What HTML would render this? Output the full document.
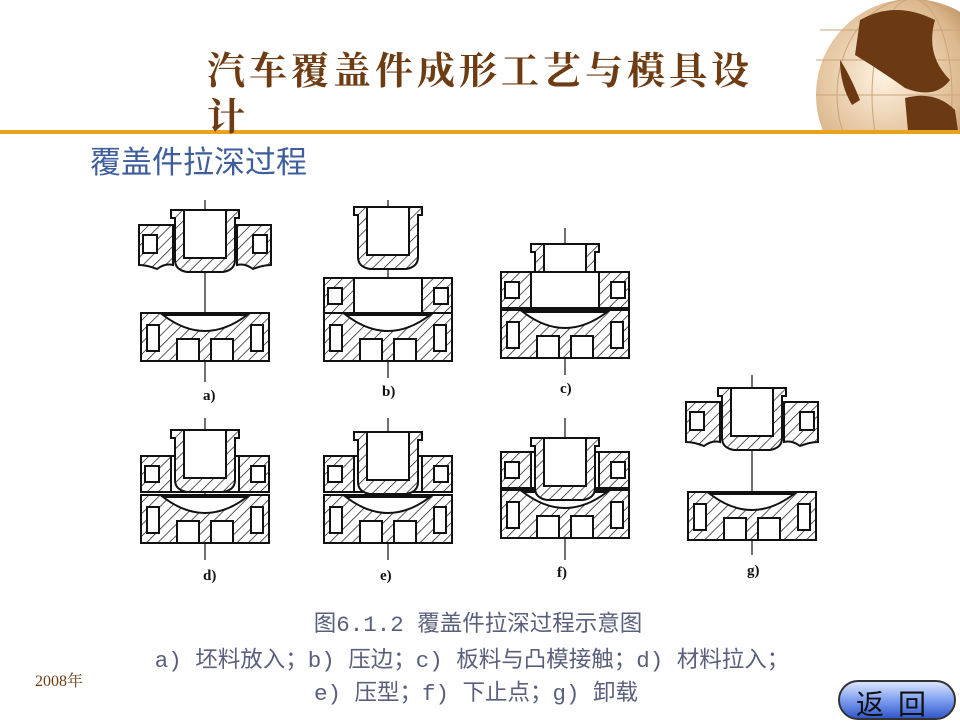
<!DOCTYPE html>
<html><head><meta charset="utf-8"><style>
body{margin:0;width:960px;height:720px;overflow:hidden;background:#fff;position:relative;font-family:"Liberation Sans","Noto Sans CJK SC",sans-serif}
.t{position:absolute;white-space:nowrap}
</style></head><body>
<svg width="960" height="720" style="position:absolute;left:0;top:0">
<defs>
<radialGradient id="gl" cx="0.35" cy="0.4" r="0.7"><stop offset="0" stop-color="#fff3e2"/><stop offset="0.6" stop-color="#dcb88d"/><stop offset="1" stop-color="#9a6333"/></radialGradient>
<linearGradient id="btn" x1="0" y1="0" x2="0" y2="1"><stop offset="0" stop-color="#dfe9ff"/><stop offset="0.5" stop-color="#7f9ff0"/><stop offset="1" stop-color="#2f55c8"/></linearGradient>
<pattern id="h" width="8" height="8" patternUnits="userSpaceOnUse" patternTransform="rotate(45)"><rect width="8" height="8" fill="#fff"/><line x1="0" y1="0" x2="0" y2="8" stroke="#111" stroke-width="1.4"/></pattern>
<g id="punch">
<path d="M-34,0H34V8H30V50Q30,60 18,62H-18Q-30,60 -30,50V8H-34Z" fill="url(#h)" stroke="#111" stroke-width="2"/>
<rect x="-21" y="0" width="42" height="48" fill="#fff" stroke="#111" stroke-width="2"/>
</g>
<g id="side">
<path d="M-66,0H-32V40Q-40,38 -48,44Q-58,40 -66,40Z" fill="url(#h)" stroke="#111" stroke-width="2"/>
<rect x="-62" y="10" width="14" height="18" fill="#fff" stroke="#111" stroke-width="2"/>
<path d="M66,0H32V40Q40,38 48,44Q58,40 66,40Z" fill="url(#h)" stroke="#111" stroke-width="2"/>
<rect x="48" y="10" width="14" height="18" fill="#fff" stroke="#111" stroke-width="2"/>
</g>
<g id="lower">
<path d="M-64,0H64V48H-64Z" fill="url(#h)" stroke="#111" stroke-width="2"/>
<path d="M-42,2Q0,34 42,2Z" fill="#fff" stroke="#111" stroke-width="2"/>
<rect x="-28" y="26" width="22" height="22" fill="#fff" stroke="#111" stroke-width="2"/>
<rect x="6" y="26" width="22" height="22" fill="#fff" stroke="#111" stroke-width="2"/>
<rect x="-58" y="12" width="12" height="26" fill="#fff" stroke="#111" stroke-width="2"/>
<rect x="46" y="12" width="12" height="26" fill="#fff" stroke="#111" stroke-width="2"/>
</g>
<g id="ring">
<path d="M-64,0H64V36H-64Z" fill="url(#h)" stroke="#111" stroke-width="2"/>
<rect x="-34" y="0" width="68" height="36" fill="#fff" stroke="#111" stroke-width="2"/>
<rect x="-60" y="10" width="14" height="16" fill="#fff" stroke="#111" stroke-width="2"/>
<rect x="46" y="10" width="14" height="16" fill="#fff" stroke="#111" stroke-width="2"/>
</g>
</defs>
<clipPath id="gc"><rect x="800" y="0" width="160" height="131"/></clipPath>
<g clip-path="url(#gc)"><circle cx="912" cy="95" r="96" fill="url(#gl)"/>
<g fill="none" stroke="#c9a47a" stroke-width="1"><ellipse cx="912" cy="95" rx="40" ry="96"/><ellipse cx="912" cy="95" rx="75" ry="96"/><line x1="816" y1="60" x2="1008" y2="60"/><line x1="816" y1="95" x2="1008" y2="95"/><line x1="820" y1="30" x2="1000" y2="30"/></g>
<path d="M860,20Q895,0 935,20Q925,55 950,80Q935,100 905,88Q880,70 855,55Z" fill="#6b3a12"/>
<path d="M840,60Q850,75 860,100L852,105Q840,85 840,60Z" fill="#6b3a12"/>
<path d="M905,98Q935,90 955,110L958,131H908Z" fill="#6b3a12"/></g>
<rect x="0" y="130" width="960" height="4" fill="#e8a21c"/>
<g transform="translate(205,0)"><line x1="0" y1="200" x2="0" y2="382" stroke="#111" stroke-width="1.2"/>
<use href="#side" y="225"/><use href="#punch" y="210"/>
<path d="M-60,318Q0,345 60,315" fill="none" stroke="#111" stroke-width="3"/><use href="#lower" y="313"/></g>
<g transform="translate(388,0)"><line x1="0" y1="200" x2="0" y2="378" stroke="#111" stroke-width="1.2"/>
<use href="#punch" y="207"/><use href="#ring" y="278"/><use href="#lower" y="313"/></g>
<g transform="translate(565,0)"><line x1="0" y1="228" x2="0" y2="375" stroke="#111" stroke-width="1.2"/>
<use href="#punch" y="244"/><use href="#ring" y="272"/><use href="#lower" y="310"/></g>
<g transform="translate(205,0)"><line x1="0" y1="418" x2="0" y2="560" stroke="#111" stroke-width="1.2"/>
<use href="#ring" y="456"/><use href="#lower" y="495"/><use href="#punch" y="430"/></g>
<g transform="translate(388,0)"><line x1="0" y1="418" x2="0" y2="560" stroke="#111" stroke-width="1.2"/>
<use href="#ring" y="456"/><use href="#lower" y="495"/><use href="#punch" y="432"/></g>
<g transform="translate(565,0)"><line x1="0" y1="418" x2="0" y2="560" stroke="#111" stroke-width="1.2"/>
<use href="#ring" y="452"/><use href="#lower" y="490"/><use href="#punch" y="438"/></g>
<g transform="translate(752,0)"><line x1="0" y1="375" x2="0" y2="555" stroke="#111" stroke-width="1.2"/>
<use href="#side" y="402"/><use href="#punch" y="388"/><use href="#lower" y="492"/></g>
<g font-family="Liberation Serif,serif" font-size="15" font-weight="bold" fill="#111">
<text x="203" y="400">a)</text><text x="382" y="396">b)</text><text x="560" y="393">c)</text>
<text x="203" y="580">d)</text><text x="380" y="580">e)</text><text x="557" y="577">f)</text><text x="747" y="575">g)</text></g>
<rect x="839" y="681" width="116" height="38" rx="19" fill="url(#btn)" stroke="#333" stroke-width="2"/>
</svg>
<div class="t" style="left:207px;top:40px;font-size:38px;font-weight:bold;color:#6e3c12;letter-spacing:4px;font-family:'Noto Serif CJK SC','Noto Sans CJK SC',sans-serif">汽车覆盖件成形工艺与模具设</div>
<div class="t" style="left:207px;top:86px;font-size:38px;font-weight:bold;color:#6e3c12;font-family:'Noto Serif CJK SC','Noto Sans CJK SC',sans-serif">计</div>
<div class="t" style="left:90px;top:137px;font-size:31px;color:#3d5d9c">覆盖件拉深过程</div>
<div class="t" style="left:0;width:956px;text-align:center;top:606px;font-size:22.5px;color:#5a607c;font-family:'Liberation Mono','Noto Sans CJK SC',monospace">图6.1.2 覆盖件拉深过程示意图</div>
<div class="t" style="left:0;width:944px;text-align:center;top:642px;font-size:22.5px;color:#5a607c;font-family:'Liberation Mono','Noto Sans CJK SC',monospace">a) 坯料放入；b) 压边；c) 板料与凸模接触；d) 材料拉入；</div>
<div class="t" style="left:0;width:952px;text-align:center;top:675px;font-size:22.5px;color:#5a607c;font-family:'Liberation Mono','Noto Sans CJK SC',monospace">e) 压型；f) 下止点；g) 卸载</div>
<div class="t" style="left:35px;top:668px;font-size:16px;color:#6e3c12;font-family:'Liberation Serif','Noto Serif CJK SC',serif">2008年</div>
<div class="t" style="left:856px;top:683px;font-size:28px;color:#111;letter-spacing:14px">返回</div>
</body></html>
